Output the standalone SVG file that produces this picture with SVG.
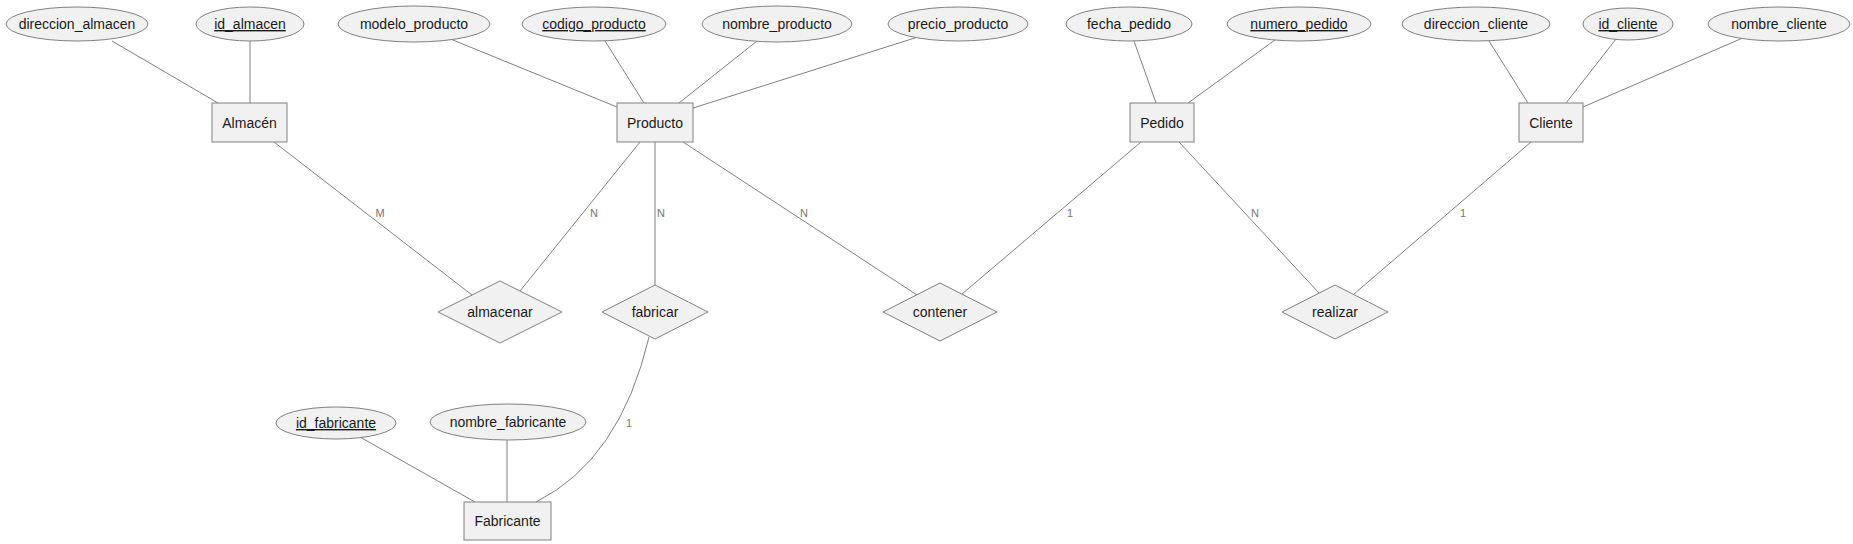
<svg xmlns="http://www.w3.org/2000/svg" width="1853" height="544" viewBox="0 0 1853 544">
<style>
.shape{fill:#f1f1f1;stroke:#808080;stroke-width:1}
.t{font-family:"Liberation Sans",Arial,sans-serif;font-size:14px;fill:#1a1a1a;text-anchor:middle}
.u{text-decoration:underline}
.lbl{font-family:"Liberation Sans",Arial,sans-serif;font-size:11px;fill:#777777;text-anchor:middle}
#connectors line,#connectors path{stroke:#808080;stroke-width:1;fill:none}
</style>
<rect width="1853" height="544" fill="#ffffff"/>
<g id="connectors">
<line x1="112" y1="41" x2="218" y2="103"/>
<line x1="250" y1="41" x2="250" y2="103"/>
<line x1="448" y1="38" x2="617" y2="107"/>
<line x1="605" y1="41" x2="644" y2="103"/>
<line x1="757" y1="41" x2="679" y2="103"/>
<line x1="918" y1="37" x2="693" y2="108"/>
<line x1="1134" y1="41" x2="1156" y2="103"/>
<line x1="1275" y1="40" x2="1188" y2="103"/>
<line x1="1489" y1="41" x2="1528" y2="103"/>
<line x1="1616" y1="39" x2="1566" y2="103"/>
<line x1="1745" y1="37" x2="1583" y2="107"/>
<line x1="274" y1="142" x2="472" y2="295"/>
<line x1="640" y1="142" x2="520" y2="291"/>
<line x1="655" y1="142" x2="655" y2="285"/>
<line x1="683" y1="142" x2="917" y2="295"/>
<line x1="1141" y1="142" x2="962" y2="294"/>
<line x1="1179" y1="142" x2="1319" y2="293"/>
<line x1="1531" y1="142" x2="1354" y2="294"/>
<path d="M649,337 Q620,460 536,502"/>
<line x1="360" y1="437" x2="475" y2="502"/>
<line x1="507" y1="440" x2="507" y2="502"/>
<text class="lbl" x="380" y="217">M</text>
<text class="lbl" x="594" y="217">N</text>
<text class="lbl" x="661" y="217">N</text>
<text class="lbl" x="804" y="217">N</text>
<text class="lbl" x="1070" y="217">1</text>
<text class="lbl" x="1255" y="217">N</text>
<text class="lbl" x="1463" y="217">1</text>
<text class="lbl" x="629" y="427">1</text>
</g>
<g id="direccion_almacen"><ellipse class="shape" cx="77" cy="24" rx="71" ry="17"/><text class="t" x="77" y="29">direccion_almacen</text></g>
<g id="id_almacen"><ellipse class="shape" cx="250" cy="24" rx="54" ry="17"/><text class="t u" x="250" y="29">id_almacen</text></g>
<g id="modelo_producto"><ellipse class="shape" cx="414" cy="24" rx="76" ry="18"/><text class="t" x="414" y="29">modelo_producto</text></g>
<g id="codigo_producto"><ellipse class="shape" cx="594" cy="24" rx="72" ry="17"/><text class="t u" x="594" y="29">codigo_producto</text></g>
<g id="nombre_producto"><ellipse class="shape" cx="777" cy="24" rx="75" ry="18"/><text class="t" x="777" y="29">nombre_producto</text></g>
<g id="precio_producto"><ellipse class="shape" cx="958" cy="24" rx="70" ry="17"/><text class="t" x="958" y="29">precio_producto</text></g>
<g id="fecha_pedido"><ellipse class="shape" cx="1129" cy="24" rx="63" ry="17"/><text class="t" x="1129" y="29">fecha_pedido</text></g>
<g id="numero_pedido"><ellipse class="shape" cx="1299" cy="24" rx="72" ry="17"/><text class="t u" x="1299" y="29">numero_pedido</text></g>
<g id="direccion_cliente"><ellipse class="shape" cx="1476" cy="24" rx="74" ry="17"/><text class="t" x="1476" y="29">direccion_cliente</text></g>
<g id="id_cliente"><ellipse class="shape" cx="1628" cy="24" rx="45" ry="16"/><text class="t u" x="1628" y="29">id_cliente</text></g>
<g id="nombre_cliente"><ellipse class="shape" cx="1779" cy="24" rx="71" ry="17"/><text class="t" x="1779" y="29">nombre_cliente</text></g>
<g id="Almacen"><rect class="shape" x="212" y="103" width="75" height="39"/><text class="t" x="249.5" y="127.5">Almacén</text></g>
<g id="Producto"><rect class="shape" x="617" y="103" width="76" height="39"/><text class="t" x="655" y="127.5">Producto</text></g>
<g id="Pedido"><rect class="shape" x="1130" y="103" width="64" height="39"/><text class="t" x="1162" y="127.5">Pedido</text></g>
<g id="Cliente"><rect class="shape" x="1519" y="103" width="64" height="39"/><text class="t" x="1551" y="127.5">Cliente</text></g>
<g id="almacenar"><polygon class="shape" points="500,281 562,312 500,343 438,312"/><text class="t" x="500" y="317">almacenar</text></g>
<g id="fabricar"><polygon class="shape" points="655,285 708,312 655,339 602,312"/><text class="t" x="655" y="317">fabricar</text></g>
<g id="contener"><polygon class="shape" points="940,283 997,312 940,341 883,312"/><text class="t" x="940" y="317">contener</text></g>
<g id="realizar"><polygon class="shape" points="1335,285 1388,312 1335,339 1282,312"/><text class="t" x="1335" y="317">realizar</text></g>
<g id="id_fabricante"><ellipse class="shape" cx="336" cy="423" rx="60" ry="16"/><text class="t u" x="336" y="428">id_fabricante</text></g>
<g id="nombre_fabricante"><ellipse class="shape" cx="508" cy="422" rx="78" ry="18"/><text class="t" x="508" y="427">nombre_fabricante</text></g>
<g id="Fabricante"><rect class="shape" x="464" y="502" width="87" height="38"/><text class="t" x="507.5" y="526">Fabricante</text></g>
</svg>
